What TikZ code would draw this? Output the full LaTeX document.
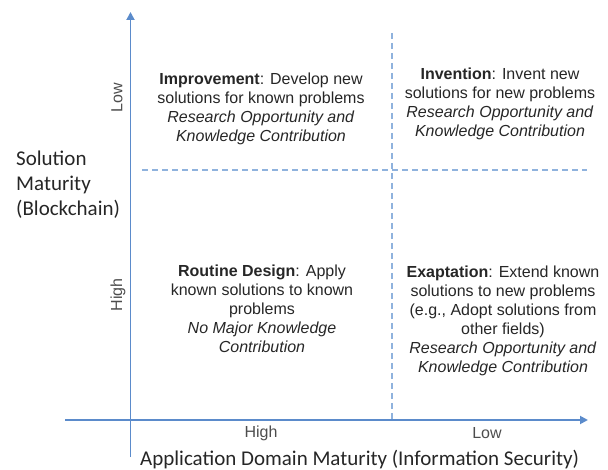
\documentclass[tikz,border=0pt]{standalone}
\usepackage{fontspec}
\setmainfont{Liberation Sans}
\newfontfamily\calib{Carlito}
\usetikzlibrary{arrows.meta}
\definecolor{axisblue}{HTML}{5B8BCB}
\definecolor{dashblue}{HTML}{8FB2DD}
\definecolor{qtext}{HTML}{262626}
\definecolor{ltext}{HTML}{4D4D4D}
\tikzset{
  axisline/.style={draw=axisblue, line width=1.8pt},
  axisarrow/.style={axisline, -{Triangle[length=8pt,width=8pt]}},
  divider/.style={draw=dashblue, line width=1.1pt, dash pattern=on 6pt off 4pt},
  quad/.style={align=center, text=qtext, font=\fontsize{16}{19}\selectfont, inner sep=0pt},
  tick/.style={text=ltext, font=\fontsize{16}{19}\selectfont, inner sep=0pt},
  axlabel/.style={text=qtext, font=\calib\fontsize{21}{25}\selectfont, inner sep=0pt},
}
\begin{document}
\begin{tikzpicture}[x=1pt,y=-1pt]
\useasboundingbox (0,0) rectangle (608,470);
% dividers
\coordinate (vd1) at (392,33);
\coordinate (vd2) at (392,420);
\coordinate (hd1) at (142,170);
\coordinate (hd2) at (587,170);
\draw[divider] (vd1) -- (vd2);
\draw[divider] (hd1) -- (hd2);
% axes
\coordinate (ys) at (130.5,457);
\coordinate (ye) at (130.5,12);
\coordinate (xs) at (65,420);
\coordinate (xe) at (588,420);
\draw[axisarrow] (ys) -- (ye);
\draw[axisarrow] (xs) -- (xe);
% quadrant texts
\node[quad] (impr) at (261,109) {\textbf{Improvement}: Develop new\\solutions for known problems\\\textit{Research Opportunity and}\\\textit{Knowledge Contribution}};
\node[quad] (inv) at (500,104) {\textbf{Invention}: Invent new\\solutions for new problems\\\textit{Research Opportunity and}\\\textit{Knowledge Contribution}};
\node[quad] (rout) at (262,309) {\textbf{Routine Design}: Apply\\known solutions to known\\problems\\\textit{No Major Knowledge}\\\textit{Contribution}};
\node[quad] (exap) at (503,321) {\textbf{Exaptation}: Extend known\\solutions to new problems\\(e.g., Adopt solutions from\\other fields)\\\textit{Research Opportunity and}\\\textit{Knowledge Contribution}};
% ticks
\node[tick, rotate=90] (ylow) at (117,98) {Low};
\node[tick, rotate=90] (yhigh) at (118,295) {High};
\node[tick] (xhigh) at (261,433) {High};
\node[tick] (xlow) at (487,433) {Low};
% axis labels
\node[axlabel, align=left, anchor=west] (ylab) at (16,185) {Solution\\Maturity\\(Blockchain)};
\node[axlabel, anchor=west] (xlab) at (140,460) {Application Domain Maturity (Information Security)};
\end{tikzpicture}
\end{document}
